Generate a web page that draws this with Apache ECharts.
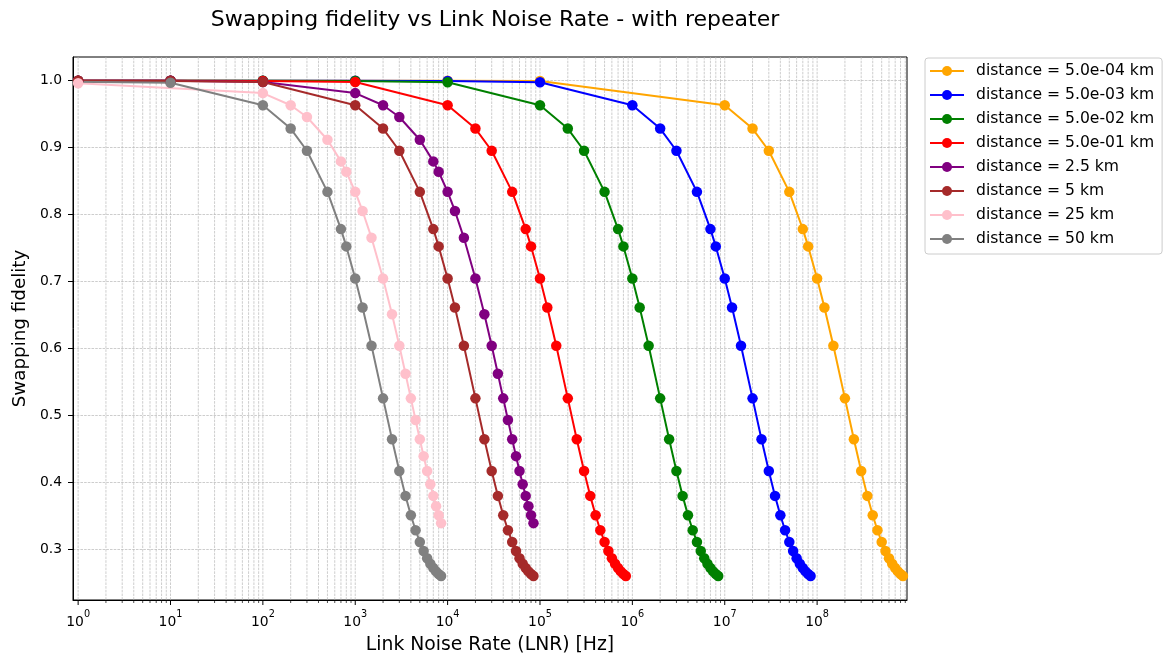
<!DOCTYPE html>
<html><head><meta charset="utf-8">
<script src="https://cdn.jsdelivr.net/npm/echarts@6/dist/echarts.min.js"></script>
<style>html,body{margin:0;padding:0;background:#fff}#c{width:1163px;height:662px}</style>
</head><body><div id="c"></div>
<script>
// ---------- data ----------
const seriesNames = [
  'distance = 5.0e-04 km', 'distance = 5.0e-03 km', 'distance = 5.0e-02 km', 'distance = 5.0e-01 km',
  'distance = 2.5 km', 'distance = 5 km', 'distance = 25 km', 'distance = 50 km'
];
const seriesColors = ['#FFA500', '#0000FF', '#008000', '#FF0000', '#800080', '#A52A2A', '#FFC0CB', '#808080'];

const lnrOrange = [1, 10, 100, 1e3, 1e4, 1e5, 1e7, 2e7, 3e7, 5e7, 7e7, 8e7, 1e8, 1.2e8, 1.5e8, 2e8, 2.5e8, 3e8, 3.5e8, 4e8, 4.5e8, 5e8, 5.5e8, 6e8, 6.5e8, 7e8, 7.5e8, 8e8, 8.5e8];
const fidOrange = [1.0, 1.0, 1.0, 1.0, 0.9999, 0.9996, 0.9634, 0.9286, 0.8955, 0.8341, 0.7785, 0.7527, 0.7049, 0.6616, 0.6043, 0.5259, 0.4649, 0.4174, 0.3803, 0.3515, 0.3291, 0.3116, 0.2980, 0.2873, 0.2791, 0.2727, 0.2676, 0.2637, 0.2607];

const lnrBlue = [1, 10, 100, 1e3, 1e4, 1e5, 1e6, 2e6, 3e6, 5e6, 7e6, 8e6, 1e7, 1.2e7, 1.5e7, 2e7, 2.5e7, 3e7, 3.5e7, 4e7, 4.5e7, 5e7, 5.5e7, 6e7, 6.5e7, 7e7, 7.5e7, 8e7, 8.5e7];
const fidBlue = [1.0, 1.0, 1.0, 0.9999, 0.9996, 0.9977, 0.9634, 0.9286, 0.8955, 0.8341, 0.7785, 0.7527, 0.7049, 0.6616, 0.6043, 0.5259, 0.4649, 0.4174, 0.3803, 0.3515, 0.3291, 0.3116, 0.2980, 0.2873, 0.2791, 0.2727, 0.2676, 0.2637, 0.2607];

const lnrGreen = [1, 10, 100, 1e3, 1e4, 1e5, 2e5, 3e5, 5e5, 7e5, 8e5, 1e6, 1.2e6, 1.5e6, 2e6, 2.5e6, 3e6, 3.5e6, 4e6, 4.5e6, 5e6, 5.5e6, 6e6, 6.5e6, 7e6, 7.5e6, 8e6, 8.5e6];
const fidGreen = [1.0, 1.0, 0.9999, 0.9996, 0.9977, 0.9634, 0.9286, 0.8955, 0.8341, 0.7785, 0.7527, 0.7049, 0.6616, 0.6043, 0.5259, 0.4649, 0.4174, 0.3803, 0.3515, 0.3291, 0.3116, 0.2980, 0.2873, 0.2791, 0.2727, 0.2676, 0.2637, 0.2607];

const lnrRed = [1, 10, 100, 1e3, 1e4, 2e4, 3e4, 5e4, 7e4, 8e4, 1e5, 1.2e5, 1.5e5, 2e5, 2.5e5, 3e5, 3.5e5, 4e5, 4.5e5, 5e5, 5.5e5, 6e5, 6.5e5, 7e5, 7.5e5, 8e5, 8.5e5];
const fidRed = [1.0, 0.9999, 0.9996, 0.9982, 0.9634, 0.9286, 0.8955, 0.8341, 0.7785, 0.7527, 0.7049, 0.6616, 0.6043, 0.5259, 0.4649, 0.4174, 0.3803, 0.3515, 0.3291, 0.3116, 0.2980, 0.2873, 0.2791, 0.2727, 0.2676, 0.2637, 0.2607];

const lnrPurple = [1, 10, 100, 1000, 2000, 3000, 5000, 7000, 8000, 10000, 12000, 15000, 20000, 25000, 30000, 35000, 40000, 45000, 50000, 55000, 60000, 65000, 70000, 75000, 80000, 85000];
const fidPurple = [1.0, 0.9998, 0.9981, 0.9815, 0.9634, 0.9458, 0.9119, 0.8796, 0.8641, 0.8341, 0.8056, 0.7655, 0.7049, 0.6515, 0.6043, 0.5627, 0.5259, 0.4935, 0.4649, 0.4396, 0.4174, 0.3977, 0.3803, 0.3650, 0.3515, 0.3396];

const lnrBrown = [1, 10, 100, 1000, 2000, 3000, 5000, 7000, 8000, 10000, 12000, 15000, 20000, 25000, 30000, 35000, 40000, 45000, 50000, 55000, 60000, 65000, 70000, 75000, 80000, 85000];
const fidBrown = [1.0, 0.9996, 0.9982, 0.9634, 0.9286, 0.8955, 0.8341, 0.7785, 0.7527, 0.7049, 0.6616, 0.6043, 0.5259, 0.4649, 0.4174, 0.3803, 0.3515, 0.3291, 0.3116, 0.2980, 0.2873, 0.2791, 0.2727, 0.2676, 0.2637, 0.2607];

const lnrPink = [1, 100, 200, 300, 500, 700, 800, 1000, 1200, 1500, 2000, 2500, 3000, 3500, 4000, 4500, 5000, 5500, 6000, 6500, 7000, 7500, 8000, 8500];
const fidPink = [0.9962, 0.9815, 0.9634, 0.9458, 0.9119, 0.8796, 0.8641, 0.8341, 0.8056, 0.7655, 0.7049, 0.6515, 0.6043, 0.5627, 0.5259, 0.4935, 0.4649, 0.4396, 0.4174, 0.3977, 0.3803, 0.3650, 0.3515, 0.3396];

const lnrGray = [0.1, 10, 100, 200, 300, 500, 700, 800, 1000, 1200, 1500, 2000, 2500, 3000, 3500, 4000, 4500, 5000, 5500, 6000, 6500, 7000, 7500, 8000, 8500];
const fidGray = [1.0, 0.9970, 0.9634, 0.9286, 0.8955, 0.8341, 0.7785, 0.7527, 0.7049, 0.6616, 0.6043, 0.5259, 0.4649, 0.4174, 0.3803, 0.3515, 0.3291, 0.3116, 0.2980, 0.2873, 0.2791, 0.2727, 0.2676, 0.2637, 0.2607];

const allLnr = [lnrOrange, lnrBlue, lnrGreen, lnrRed, lnrPurple, lnrBrown, lnrPink, lnrGray];
const allFid = [fidOrange, fidBlue, fidGreen, fidRed, fidPurple, fidBrown, fidPink, fidGray];

// ticks
const xMajorTicks = [1, 10, 100, 1e3, 1e4, 1e5, 1e6, 1e7, 1e8];
const xMinorTicks = [];
for (const d of xMajorTicks) for (let m = 2; m <= 9; m++) xMinorTicks.push(m * d);
const yTicks = [0.3, 0.4, 0.5, 0.6, 0.7, 0.8, 0.9, 1.0];

const X_MIN = 0.88, X_MAX = 9.4e8, Y_MIN = 0.2249, Y_MAX = 1.0354;
const FONT = 'DejaVu Sans';

const gridDash = [2.6, 1.1];
const gridColor = '#b8b8b8';

const chart = echarts.init(document.getElementById('c'), null, {renderer: 'canvas'});

const lineSeries = seriesNames.map((name, i) => ({
  name: name,
  type: 'line',
  data: allLnr[i].map((x, j) => [x, allFid[i][j]]),
  symbol: 'circle',
  symbolSize: 10.5,
  showAllSymbol: true,
  clip: true,
  z: 3,
  lineStyle: {color: seriesColors[i], width: 2},
  itemStyle: {color: seriesColors[i]},
  emphasis: {disabled: true},
  animation: false
}));

const gridSeries = {
  type: 'custom',
  silent: true,
  z: 1,
  clip: false,
  animation: false,
  data: xMajorTicks.map(v => [v, 1]).concat(xMinorTicks.filter(v => v < X_MAX).map(v => [v, 0])),
  renderItem: function (params, api) {
    const v = api.value(0);
    const major = api.value(1) === 1;
    const top = api.coord([v, Y_MAX]);
    const bot = api.coord([v, Y_MIN]);
    return {
      type: 'group',
      children: [
        {type: 'line', shape: {x1: top[0], y1: top[1], x2: bot[0], y2: bot[1]},
         style: {stroke: gridColor, lineWidth: 0.7, lineDash: gridDash}},
        {type: 'line', shape: {x1: bot[0], y1: bot[1], x2: bot[0], y2: bot[1] + (major ? 5 : 3)},
         style: {stroke: '#000', lineWidth: major ? 1 : 0.7}}
      ]
    };
  }
};

const option = {
  animation: false,
  backgroundColor: '#fff',
  textStyle: {fontFamily: FONT},
  title: {
    text: 'Swapping fidelity vs Link Noise Rate - with repeater',
    left: 490, top: 4, textAlign: 'center',
    textStyle: {fontFamily: FONT, fontSize: 22, fontWeight: 'normal', color: '#000'}
  },
  legend: {
    orient: 'vertical',
    left: 925, top: 58,
    padding: [5, 8, 7, 4],
    itemWidth: 34, itemHeight: 12.5, itemGap: 8,
    selectedMode: false,
    backgroundColor: '#fff',
    borderColor: '#cccccc', borderWidth: 1, borderRadius: 3,
    textStyle: {fontFamily: FONT, fontSize: 15.6, color: '#000', lineHeight: 16, padding: [0, 0, 0, 7]},
    data: seriesNames
  },
  grid: {left: 73, right: 256, top: 57, bottom: 62, show: true, borderColor: '#000', borderWidth: 1,
         containLabel: false, outerBoundsMode: 'none'},
  xAxis: {
    type: 'log', logBase: 10, min: X_MIN, max: X_MAX, splitNumber: 10,
    name: 'Link Noise Rate (LNR) [Hz]', nameLocation: 'middle', nameGap: 36,
    nameTextStyle: {fontFamily: FONT, fontSize: 18.8, color: '#000'},
    axisLine: {show: true, lineStyle: {color: '#000', width: 1}},
    axisTick: {show: false},
    splitLine: {show: false},
    minorTick: {show: false},
    axisLabel: {
      margin: 9, color: '#000', fontFamily: FONT,
      formatter: function (v) {
        const e = Math.log10(v), r = Math.round(e);
        if (Math.abs(e - r) > 1e-6) return '';
        return '{n|10}{s|' + String(r) + '}';
      },
      rich: {
        n: {fontFamily: FONT, fontSize: 13.9, lineHeight: 20, verticalAlign: 'bottom', color: '#000'},
        s: {fontFamily: FONT, fontSize: 9.7, lineHeight: 10, verticalAlign: 'top', color: '#000'}
      }
    }
  },
  yAxis: {
    type: 'value', min: Y_MIN, max: Y_MAX, splitNumber: 8,
    name: 'Swapping fidelity', nameLocation: 'middle', nameGap: 43,
    nameTextStyle: {fontFamily: FONT, fontSize: 18.3, color: '#000'},
    axisLine: {show: true, lineStyle: {color: '#000', width: 1}},
    axisTick: {show: true, length: 5, lineStyle: {color: '#000', width: 1}, customValues: yTicks},
    splitLine: {show: true, lineStyle: {color: gridColor, width: 0.7, type: gridDash}},
    axisLabel: {
      margin: 11, color: '#000', fontFamily: FONT, fontSize: 13.9, customValues: yTicks,
      formatter: function (v) {
        const t = v * 10;
        if (Math.abs(t - Math.round(t)) > 1e-6) return '';
        return v.toFixed(1);
      }
    }
  },
  series: [gridSeries].concat(lineSeries)
};

chart.setOption(option);
</script>
</body></html>
